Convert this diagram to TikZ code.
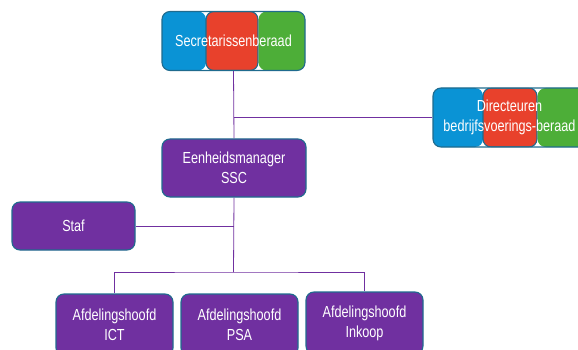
\documentclass[tikz,border=0pt]{standalone}
\usepackage{fontspec}
\setmainfont{Liberation Sans}[FakeStretch=0.79]
\definecolor{cblue}{HTML}{0A93D5}
\definecolor{cred}{HTML}{E8412C}
\definecolor{cgreen}{HTML}{4DAE38}
\definecolor{cpurple}{HTML}{7030A0}
\definecolor{cborder}{HTML}{1F6B8E}
\begin{document}
\begin{tikzpicture}[x=1pt,y=-1pt,
  box/.style={draw=cborder, line width=1.1pt, rounded corners=8pt, text=white,
    align=center, inner sep=0pt, font=\fontsize{16}{20}\selectfont},
  purplebox/.style={box, fill=cpurple},
  conn/.style={draw=cpurple, line width=0.8pt}]
\useasboundingbox (0,0) rectangle (578,350);
\clip (0,0) rectangle (578,350);
\node[purplebox, minimum width=144pt, minimum height=58pt] (een) at (234,168) {Eenheidsmanager\\SSC};
\node[box, minimum width=143pt, minimum height=59pt,
  path picture={
    \fill[cblue] (path picture bounding box.north west) rectangle ([xshift=44pt]path picture bounding box.south west);
    \filldraw[fill=cred, draw=cborder, line width=1.1pt] ([xshift=44pt]path picture bounding box.north west) rectangle ([xshift=96pt]path picture bounding box.south west);
    \fill[cgreen] ([xshift=96.6pt]path picture bounding box.north west) rectangle (path picture bounding box.south east);
  }] (sec) at (233.5,41) {Secretarissenberaad};
\node[box, minimum width=153pt, minimum height=59pt,
  path picture={
    \fill[cblue] (path picture bounding box.north west) rectangle ([xshift=50pt]path picture bounding box.south west);
    \filldraw[fill=cred, draw=cborder, line width=1.1pt] ([xshift=50pt]path picture bounding box.north west) rectangle ([xshift=104pt]path picture bounding box.south west);
    \fill[cgreen] ([xshift=104.6pt]path picture bounding box.north west) rectangle (path picture bounding box.south east);
  }] (dir) at (509.5,117.5) {Directeuren\\bedrijfsvoerings-beraad};
\node[purplebox, minimum width=123pt, minimum height=48pt] (staf) at (73.5,226) {Staf};
\node[purplebox, minimum width=117pt, minimum height=62pt] (ict) at (114.5,325) {Afdelingshoofd\\ICT};
\node[purplebox, minimum width=117pt, minimum height=62pt] (psa) at (239.5,325) {Afdelingshoofd\\PSA};
\node[purplebox, minimum width=117pt, minimum height=62pt] (ink) at (364.5,323) {Afdelingshoofd\\Inkoop};
\coordinate (bus) at (233.5,272);
\draw[conn] (sec.south) -- (een.north);
\draw[conn] (dir.west) -- (sec.south |- dir.west);
\draw[conn] (een.south) -- (bus);
\draw[conn] (staf.east) -- (een.south |- staf.east);
\draw[conn] (ict.north) |- (bus) -| (ink.north);
\end{tikzpicture}
\end{document}
